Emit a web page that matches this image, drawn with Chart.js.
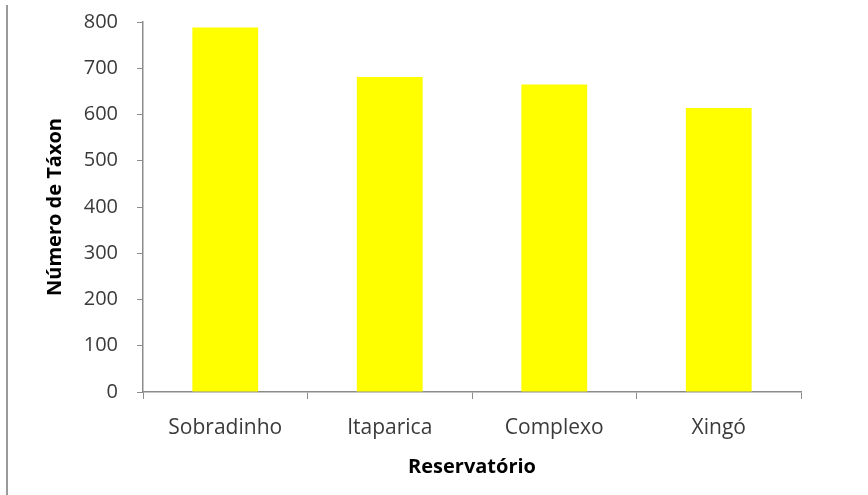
<!DOCTYPE html>
<html>
<head>
<meta charset="utf-8">
<script src="https://cdn.jsdelivr.net/npm/chart.js@4/dist/chart.umd.min.js"></script>
<style>
  html, body { margin: 0; padding: 0; background: #fff; }
  #wrap { position: relative; width: 868px; height: 495px; }
  #frame { position: absolute; left: 6px; top: 5px; width: 2px; height: 490px; background: #9a9a9a; }
</style>
</head>
<body>
<div id="wrap">
  <div id="frame"></div>
  <canvas id="barChart" width="868" height="495"></canvas>
</div>
<script>
var reservatorios = ["Sobradinho", "Itaparica", "Complexo", "Xingó"];
var numeroTaxon = [788, 681, 665, 614];
var yTicks = [0, 100, 200, 300, 400, 500, 600, 700, 800];

var barCanvas = document.querySelector('#barChart');
var yTickFont = { family: "'Open Sans', sans-serif", size: 20 };
var xTickFont = { family: "'Open Sans', sans-serif", size: 21 };
var titleFont = { family: "'Open Sans', sans-serif", size: 20, weight: 'bold' };

var barChart = new Chart(barCanvas, {
  type: 'bar',
  data: {
    labels: reservatorios,
    datasets: [{
      data: numeroTaxon,
      backgroundColor: '#FFFF00',
      borderWidth: 0,
      categoryPercentage: 1,
      barPercentage: 0.4
    }]
  },
  options: {
    responsive: false,
    animation: false,
    layout: { padding: { left: 0, right: 67, top: 22, bottom: 0 } },
    plugins: { legend: { display: false }, tooltip: { enabled: false } },
    scales: {
      x: {
        grid: { drawOnChartArea: false, drawTicks: true, tickLength: 7, color: '#8c8c8c', offset: true },
        border: { color: '#8c8c8c', width: 1.5 },
        ticks: { font: xTickFont, color: '#3a3a3a', padding: 16 },
        title: { display: true, text: 'Reservatório', font: titleFont, color: '#000', padding: { top: 0, bottom: 16 } },
        afterFit: function (scale) { scale.height = 103; }
      },
      y: {
        min: 0,
        max: 800,
        afterBuildTicks: function (scale) { scale.ticks = yTicks.map(function (v) { return { value: v }; }); },
        grid: { drawOnChartArea: false, drawTicks: true, tickLength: 6, color: '#8c8c8c' },
        border: { color: '#8c8c8c', width: 1.5 },
        ticks: { font: yTickFont, color: '#3a3a3a', padding: 19 },
        title: { display: true, text: 'Número de Táxon', font: titleFont, color: '#000', padding: { top: 43, bottom: 0 } },
        afterFit: function (scale) {
          scale.width = 143;
          scale.paddingTop = 0;
          scale.paddingBottom = 0;
        }
      }
    }
  }
});
</script>
</body>
</html>
